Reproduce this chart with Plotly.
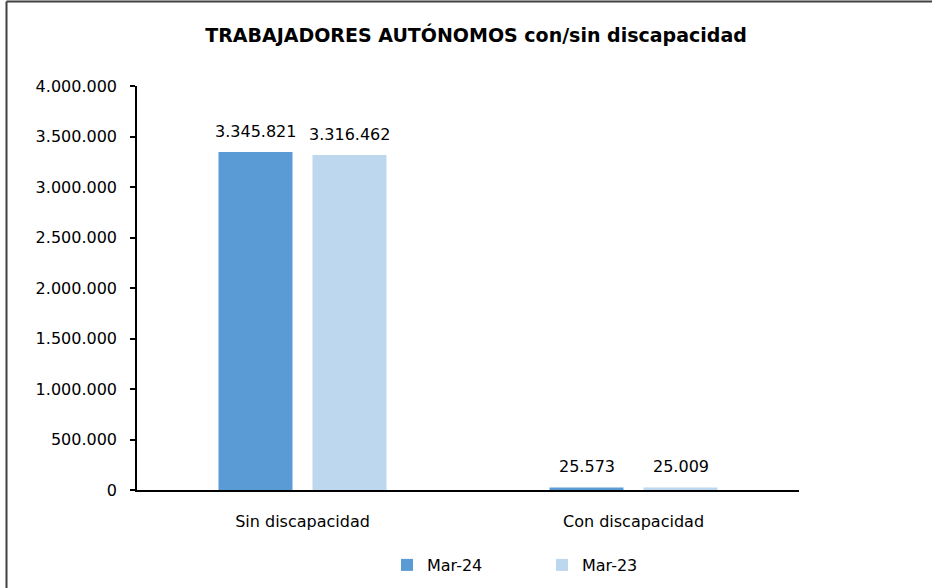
import plotly.graph_objects as go

categories = ["Sin discapacidad", "Con discapacidad"]
series_names = ["Mar-24", "Mar-23"]
mar24 = [3345821, 25573]
mar23 = [3316462, 25009]
y_ticks = [0, 500000, 1000000, 1500000, 2000000, 2500000, 3000000, 3500000, 4000000]

W, H = 932, 588
L, R, T, B = 137, 932 - 799, 86, 588 - 490
pw, ph = W - L - R, H - T - B

FONT = "DejaVu Sans"
TXT = "#000000"
COLORS = ["#5B9BD5", "#BDD7EE"]

fig = go.Figure()
for name, vals, col in zip(series_names, [mar24, mar23], COLORS):
    fig.add_trace(go.Bar(
        x=categories, y=vals, name=name,
        marker=dict(color=col, line=dict(width=0)),
        hoverinfo="x+y+name",
    ))

def px_to_paper_x(px):
    return (px - L) / pw

def px_to_paper_y(py):
    return (H - B - py) / ph

# data labels above bars (shift to each bar of the group)
bar_offsets = [-47, 47]
annotations = []
for vals, dx in zip([mar24, mar23], bar_offsets):
    for cat, v in zip(categories, vals):
        annotations.append(dict(
            x=cat, y=v, xref="x", yref="y",
            text=f"{v:,}".replace(",", "."),
            showarrow=False, xshift=dx, yshift=9,
            xanchor="center", yanchor="bottom",
            font=dict(family=FONT, size=16, color=TXT),
        ))

fig.update_layout(
    width=W, height=H,
    margin=dict(l=L, r=R, t=T, b=B, autoexpand=False),
    paper_bgcolor="white", plot_bgcolor="white",
    separators=",.",
    barmode="group", bargap=0.432, bargroupgap=0.213,
    font=dict(family=FONT, size=16, color=TXT),
    title=dict(
        text="<b>TRABAJADORES AUTÓNOMOS con/sin discapacidad</b>",
        x=476 / W, xanchor="center", xref="container",
        y=1 - 35 / H, yanchor="middle", yref="container",
        font=dict(family=FONT, size=19, color=TXT),
    ),
    xaxis=dict(
        showline=True, linecolor="#000000", linewidth=1.5,
        ticks="", ticklabelstandoff=16,
        tickfont=dict(family=FONT, size=16, color=TXT),
        showgrid=False, zeroline=False,
    ),
    yaxis=dict(
        range=[0, 4000000], tickvals=y_ticks, tickformat=",d",
        showline=True, linecolor="#000000", linewidth=1.5,
        ticks="outside", ticklen=5, tickcolor="#000000", tickwidth=1.5,
        ticklabelstandoff=10,
        tickfont=dict(family=FONT, size=16, color=TXT),
        showgrid=False, zeroline=False,
    ),
    legend=dict(
        orientation="h", x=px_to_paper_x(387), xanchor="left",
        y=px_to_paper_y(565), yanchor="middle",
        font=dict(family=FONT, size=16, color=TXT),
        entrywidth=110, entrywidthmode="pixels",
        itemclick=False, traceorder="normal",
    ),
    annotations=annotations,
    shapes=[
        dict(type="line", xref="paper", yref="paper",
             x0=px_to_paper_x(6.5), x1=px_to_paper_x(6.5),
             y0=px_to_paper_y(1.5), y1=px_to_paper_y(600),
             line=dict(color="#404040", width=2)),
        dict(type="line", xref="paper", yref="paper",
             x0=px_to_paper_x(6.5), x1=px_to_paper_x(940),
             y0=px_to_paper_y(1.5), y1=px_to_paper_y(1.5),
             line=dict(color="#404040", width=2)),
    ],
)

fig.write_html(
    "out.html",
    config={"displayModeBar": False},
    post_script="document.body.style.margin='0';document.body.style.overflow='hidden';",
)
